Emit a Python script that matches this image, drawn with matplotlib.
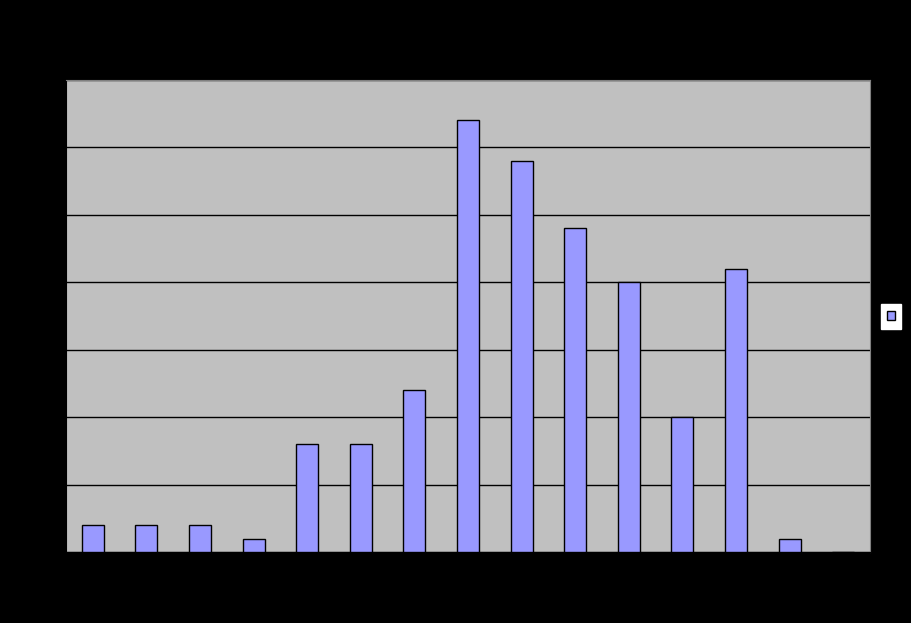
import matplotlib
matplotlib.use("Agg")
import matplotlib.pyplot as plt
from matplotlib.patches import Patch

categories = [str(i) for i in range(1, 16)]
values = [2, 2, 2, 1, 8, 8, 12, 32, 29, 24, 20, 10, 21, 1, 0]
y_ticks = [0, 5, 10, 15, 20, 25, 30, 35]

fig = plt.figure(figsize=(9.11, 6.23), dpi=100, facecolor="black")
ax = fig.add_axes([66/911, (623-552)/623, 804/911, 472/623])
ax.set_facecolor("#C0C0C0")

x = list(range(len(categories)))
ax.bar(x, values, width=0.41, color="#9999FF", edgecolor="black", linewidth=1, zorder=3)

ax.set_xlim(-0.5, len(categories) - 0.5)
ax.set_ylim(0, 35)
ax.set_yticks(y_ticks)
ax.set_yticklabels([str(t) for t in y_ticks], color="black")
ax.set_xticks(x)
ax.set_xticklabels(categories, color="black")
ax.tick_params(length=0)
ax.yaxis.grid(True, color="black", linewidth=1, zorder=1)
ax.set_axisbelow(True)
for s in ["top", "right"]:
    ax.spines[s].set_color("#808080")
for s in ["left", "bottom"]:
    ax.spines[s].set_color("black")

leg = fig.legend(handles=[Patch(facecolor="#9999FF", edgecolor="black", label="")],
                 loc="center", bbox_to_anchor=(891/911, 1 - 316.5/623),
                 frameon=True, framealpha=1, fancybox=False,
                 handlelength=0.7, handleheight=0.7,
                 handletextpad=0, borderpad=0.45, fontsize=9)
leg.get_frame().set_facecolor("white")
leg.get_frame().set_edgecolor("white")

fig.savefig("out.png", dpi=100, facecolor="black")
